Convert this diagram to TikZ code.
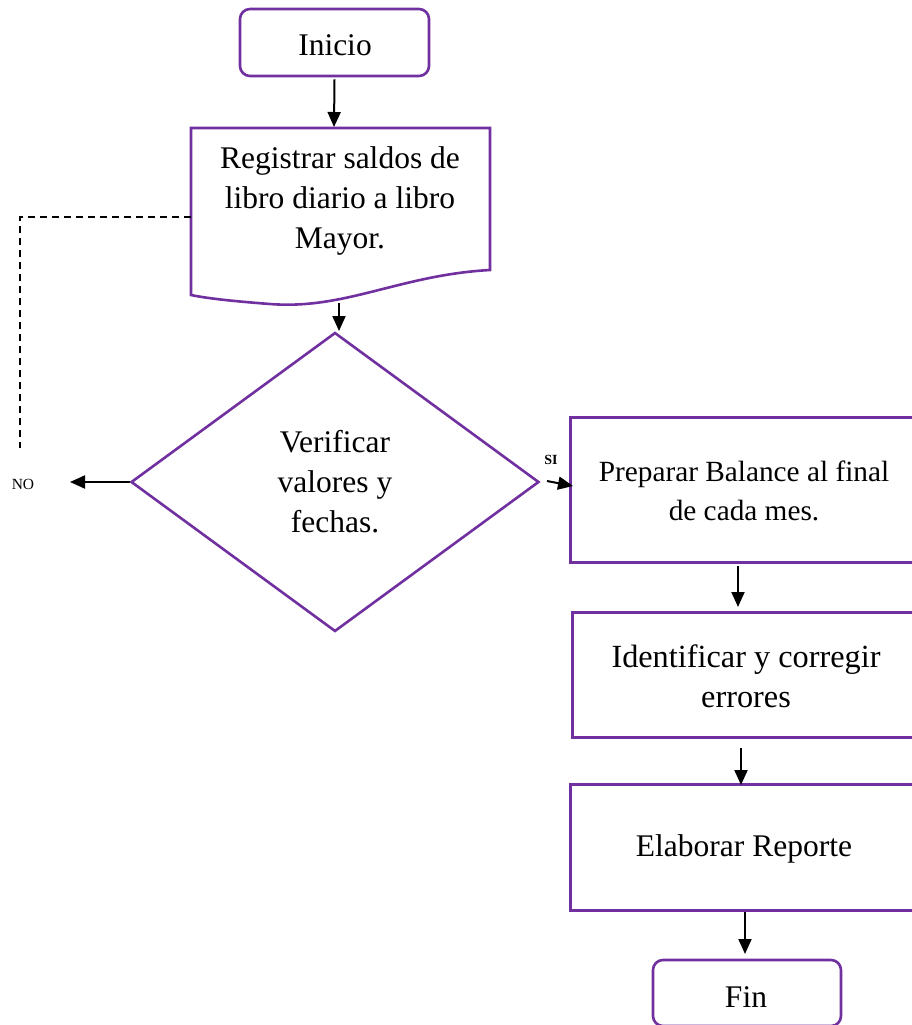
\documentclass[tikz,border=0pt]{standalone}
\usepackage{fontspec}
\setmainfont{Liberation Serif}
\usetikzlibrary{shapes.geometric,arrows.meta}
\definecolor{fpurple}{HTML}{7030A0}
\begin{document}
\begin{tikzpicture}[x=1pt,y=-1pt,
  box/.style={draw=fpurple,line width=2.6pt,minimum width=#1,inner sep=0pt},
  term/.style={draw=fpurple,line width=2.6pt,rounded corners=10pt,inner sep=0pt},
  lbl/.style={font=\fontsize{31.5}{40}\selectfont,align=center,inner sep=0pt},
  arr/.style={-{Triangle[length=15pt,width=13pt]},line width=2pt},
]
\useasboundingbox (0,0) rectangle (911,1025);
% Inicio
\node[term,minimum width=189pt,minimum height=67pt] (ini) at (334.5,42.5) {};
\node[lbl] (initxt) at (335,45) {Inicio};
% Registrar (document)
\draw[fpurple,line width=2.6pt] (191,128) -- (490,128) -- (490,270)
  .. controls (400,275) and (345,310) .. (270,304)
  .. controls (230,301) and (205,298) .. (191,295) -- cycle;
\node[lbl] (reg) at (340,201) {Registrar saldos de\\libro diario a libro\\Mayor.};
\coordinate (regout) at (339,303);
% Diamond
\node[diamond,draw=fpurple,line width=2.6pt,minimum width=408pt,minimum height=299pt,inner sep=0pt] (ver) at (335,482) {};
\node[lbl] (vertxt) at (335,482) {Verificar\\valores y\\fechas.};
% NO
\node[font=\fontsize{15.5}{17}\selectfont,inner sep=0pt] (no) at (23,484) {NO};
\coordinate (noend) at (70,482);
\coordinate (dtop) at (20,448);
\coordinate (dcorner) at (20,217);
\coordinate (dstart) at (191,217);
\draw[line width=1.6pt,dash pattern=on 7pt off 5pt] (dstart) -- (dcorner) -- (dtop);
% Preparar
\node[box=360pt,minimum height=145pt,anchor=north west] (prep) at (569,416) {};
\node[lbl,font=\fontsize{29.3}{39}\selectfont] (preptxt) at (744,491) {Preparar Balance al final\\de cada mes.};
\node[font=\bfseries\fontsize{14}{16}\selectfont,inner sep=0pt] (si) at (551,460) {SI};
\coordinate (sistart) at (547,481);
\coordinate (siend) at (573,486);
% Identificar
\node[box=360pt,minimum height=125pt,anchor=north west] (iden) at (571,611) {};
\node[lbl,font=\fontsize{32.3}{40}\selectfont] (identxt) at (746,676) {Identificar y corregir\\errores};
% Elaborar
\node[box=360pt,minimum height=126pt,anchor=north west] (elab) at (569,783) {};
\node[lbl] (elabtxt) at (744,849) {Elaborar Reporte};
% Fin
\node[term,minimum width=188pt,minimum height=66pt] (fin) at (747,993) {};
\node[lbl] (fintxt) at (746,997) {Fin};
% arrows
\draw[arr] (ini.south) ++(0,2) -- (334,127);
\draw[arr] (regout) -- (339,331);
\draw[arr] (ver.west) -- (noend);
\draw[arr] (sistart) -- (siend);
\draw[arr] (738,566) -- (738,607);
\draw[arr] (741,748) -- (741,785);
\draw[arr] (745,912) -- (745,954);
\end{tikzpicture}
\end{document}
